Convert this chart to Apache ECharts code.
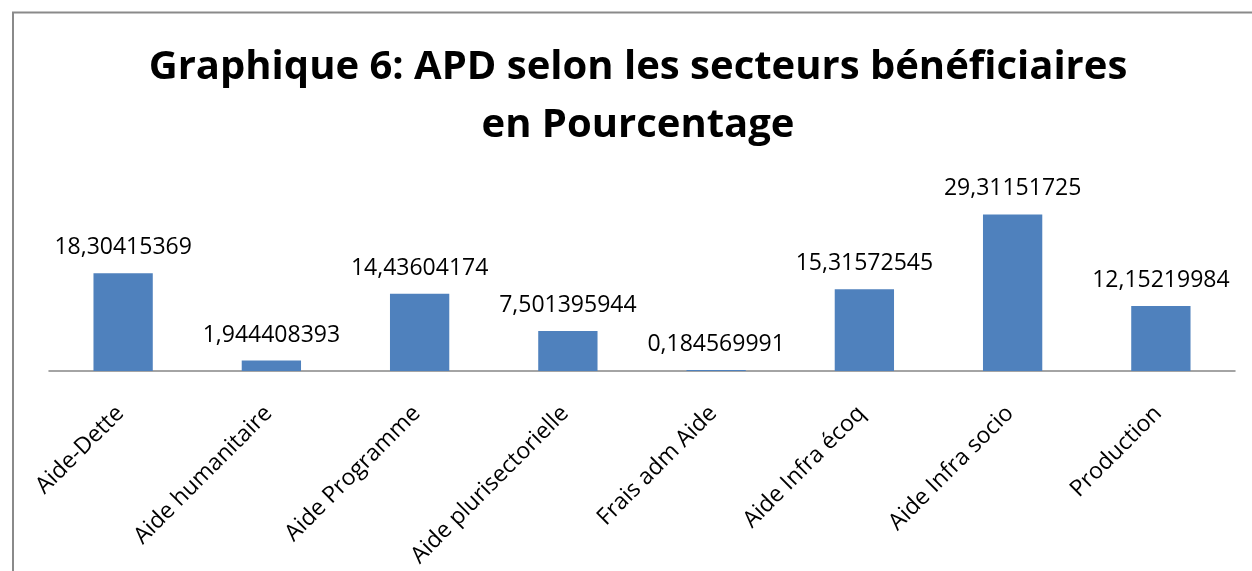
<!DOCTYPE html>
<html>
<head>
<meta charset="utf-8">
<script src="https://cdn.jsdelivr.net/npm/echarts@6/dist/echarts.min.js"></script>
<style>
  html, body { margin: 0; padding: 0; background: #fff; }
  #chart { width: 1252px; height: 571px; }
</style>
</head>
<body>
<div id="chart"></div>
<script>
// APD par secteur (%)
var secteurs = ['Aide-Dette', 'Aide humanitaire', 'Aide Programme', 'Aide plurisectorielle',
  'Frais adm Aide', 'Aide Infra écoq', 'Aide Infra socio', 'Production'];
var pourcentages = [18.30415369, 1.944408393, 14.43604174, 7.501395944,
  0.184569991, 15.31572545, 29.31151725, 12.15219984];
var titre = 'Graphique 6: APD selon les secteurs bénéficiaires\nen Pourcentage';

var chart = echarts.init(document.getElementById('chart'));

var option = {
  animation: false,
  graphic: [{
    type: 'rect',
    shape: { x: 13, y: 12.5, width: 1300, height: 600 },
    style: { fill: 'none', stroke: '#8a8a8a', lineWidth: 2 },
    silent: true
  }, {
    // titre sur deux lignes
    type: 'text',
    x: 638,
    y: 97,
    style: {
      text: titre,
      align: 'center',
      verticalAlign: 'middle',
      fontFamily: 'Open Sans',
      fontWeight: 'bold',
      fontSize: 40,
      lineHeight: 58,
      fill: '#000'
    },
    silent: true
  }],
  grid: { left: 49, right: 17, top: 184, bottom: 200 },
  xAxis: {
    type: 'category',
    data: secteurs,
    axisLine: { lineStyle: { color: '#868686', width: 1.5 } },
    axisTick: { show: false },
    axisLabel: {
      interval: 0,
      rotate: 45,
      margin: 36,
      padding: [0, 4, 0, 0],
      fontFamily: 'Open Sans',
      fontSize: 23,
      color: '#000'
    }
  },
  yAxis: {
    type: 'value',
    min: 0,
    max: 35,
    show: false,
    splitLine: { show: false }
  },
  series: [{
    type: 'bar',
    data: pourcentages,
    barWidth: '40%',
    itemStyle: { color: '#4F81BD' },
    label: {
      show: true,
      position: 'top',
      distance: 14,
      fontFamily: 'Open Sans',
      fontSize: 23,
      color: '#000',
      formatter: function (p) {
        return String(p.value).replace('.', ',');
      }
    }
  }]
};

chart.setOption(option);
</script>
</body>
</html>
